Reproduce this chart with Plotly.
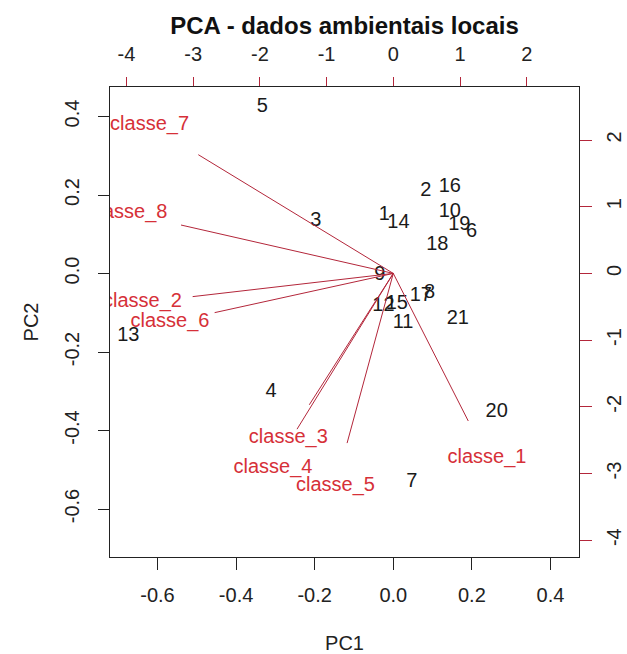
import plotly.graph_objects as go

# ---- data ----
obs_labels = [str(i) for i in range(1, 22)]
pc1_scores = [-0.023, 0.083, -0.197, -0.311, -0.333, 0.199, 0.047, 0.092, -0.034, 0.144,
              0.025, -0.025, -0.674, 0.013, 0.009, 0.144, 0.070, 0.112, 0.168, 0.263, 0.164]
pc2_scores = [0.149, 0.210, 0.134, -0.301, 0.425, 0.107, -0.530, -0.049, -0.004, 0.157,
              -0.127, -0.083, -0.158, 0.129, -0.078, 0.221, -0.057, 0.073, 0.124, -0.352, -0.117]

var_labels = ["classe_1", "classe_2", "classe_3", "classe_4", "classe_5", "classe_6", "classe_7", "classe_8"]
load_pc1 = [1.405, -3.76, -1.574, -1.804, -0.866, -3.348, -3.654, -3.978]
load_pc2 = [-2.766, -0.435, -2.462, -2.919, -3.18, -0.735, 2.225, 0.907]

pc_ticks = [-0.6, -0.4, -0.2, 0.0, 0.2, 0.4]
pc_tick_text = ["-0.6", "-0.4", "-0.2", "0.0", "0.2", "0.4"]
var_ticks = [-4, -3, -2, -1, 0, 1, 2]
var_tick_text = ["-4", "-3", "-2", "-1", "0", "1", "2"]

arrow_frac = 0.8

FONT = "Liberation Sans, Arial, sans-serif"
RED_TXT = "#D63038"
RED_LINE = "#B3263A"

fig = go.Figure()

fig.add_trace(go.Scatter(
    x=pc1_scores, y=pc2_scores, mode="text", text=obs_labels,
    textposition="middle center",
    textfont=dict(family=FONT, size=20, color="#1a1a1a"),
    xaxis="x", yaxis="y", hoverinfo="skip", showlegend=False))

ax, ay = [], []
for a, b in zip(load_pc1, load_pc2):
    ax += [0, a * arrow_frac, None]
    ay += [0, b * arrow_frac, None]
fig.add_trace(go.Scatter(
    x=ax, y=ay, mode="lines", line=dict(color=RED_LINE, width=1),
    xaxis="x2", yaxis="y2", hoverinfo="skip", showlegend=False))

fig.add_trace(go.Scatter(
    x=load_pc1, y=load_pc2, mode="text", text=var_labels,
    textposition="middle center",
    textfont=dict(family=FONT, size=20, color=RED_TXT),
    xaxis="x2", yaxis="y2", hoverinfo="skip", showlegend=False))

common = dict(showgrid=False, zeroline=False, ticks="outside", automargin=False,
              tickfont=dict(family=FONT, size=20, color="#222222"))

fig.update_layout(
    width=627, height=654,
    margin=dict(l=110, r=48, t=87, b=97),
    paper_bgcolor="white", plot_bgcolor="white",
    title=dict(text="<b>PCA - dados ambientais locais</b>", x=0.5495, xanchor="center",
               y=1 - 26 / 654, yanchor="middle", yref="container",
               font=dict(family=FONT, size=24, color="#111111")),
    xaxis=dict(range=[-0.7208, 0.4725], tickvals=pc_ticks, ticktext=pc_tick_text,
               ticklen=12, tickcolor="#222222", showline=True, mirror=True,
               linecolor="#222222", linewidth=1, ticklabelstandoff=8,
               title=dict(text="PC1", font=dict(family=FONT, size=20, color="#222222"), standoff=36),
               **common),
    yaxis=dict(range=[-0.7223, 0.4752], tickvals=pc_ticks, ticktext=pc_tick_text,
               ticklen=11, tickcolor="#222222", showline=True, mirror=True,
               linecolor="#222222", linewidth=1, tickangle=-90, ticklabelstandoff=11,
               title=dict(text="PC2", font=dict(family=FONT, size=20, color="#222222"), standoff=17),
               **common),
    xaxis2=dict(range=[-4.247, 2.784], tickvals=var_ticks, ticktext=var_tick_text,
                overlaying="x", side="top",
                ticklen=9, tickcolor=RED_LINE, showline=False, ticklabelstandoff=8,
                **common),
    yaxis2=dict(range=[-4.252, 2.795], tickvals=var_ticks, ticktext=var_tick_text,
                overlaying="y", side="right",
                ticklen=12, tickcolor=RED_LINE, showline=False, tickangle=-90,
                ticklabelstandoff=5, **common),
)

fig.write_html("out.html")
